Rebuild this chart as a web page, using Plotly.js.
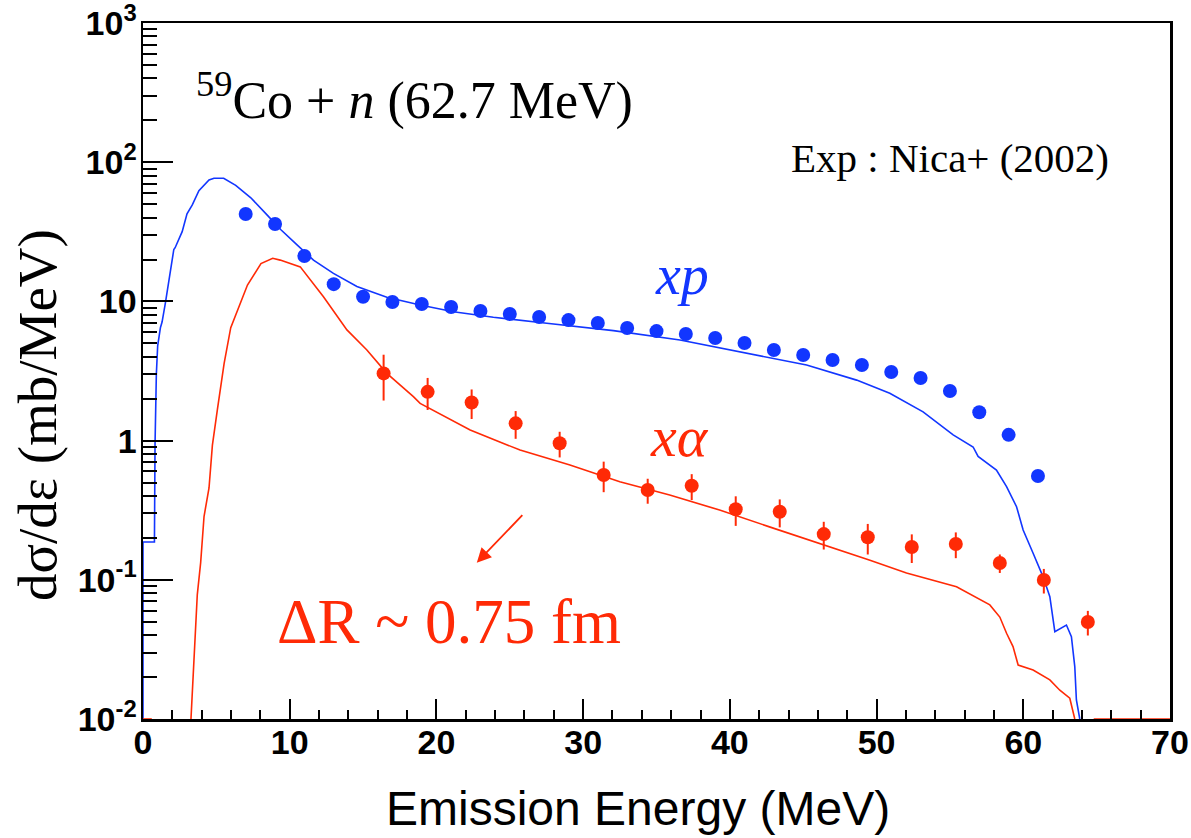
<!DOCTYPE html>
<html>
<head>
<meta charset="utf-8">
<script src="https://cdn.plot.ly/plotly-3.0.1.min.js"></script>
<style>
  html, body { margin: 0; padding: 0; background: #fff; }
  #chart { width: 1191px; height: 838px; }
</style>
</head>
<body>
<div id="chart"></div>
<script>
// Calculated spectra (lines)
const calcXpEnergy = [0, 0, 0.78, 0.82, 0.91, 1.0, 1.19, 1.3, 1.53, 1.76, 2.1, 2.19, 2.67, 3.0, 3.36, 3.81, 4.5, 4.84, 5.5, 6.32, 7.35, 8.5, 9.4, 10.5, 11.62, 12.98, 14.58, 16.62, 18.89, 21.16, 23.88, 27.52, 32.06, 36.6, 40.69, 45.23, 48.64, 50.9, 53.17, 55.22, 56.58, 56.92, 58.17, 58.86, 59.54, 59.99, 60.67, 61.35, 61.81, 62.15, 62.94, 63.28, 63.51, 63.62, 63.85];
const calcXpValue  = [0.01, 0.187, 0.187, 0.93, 3.0, 4.8, 6.5, 7.1, 9.8, 13.9, 23.6, 24.3, 31.7, 42.6, 49.3, 62.4, 74.5, 76.7, 76.7, 68.2, 55.5, 41.3, 32.7, 25.5, 19.8, 15.9, 12.8, 10.7, 9.42, 8.43, 7.69, 6.97, 6.17, 5.28, 4.35, 3.49, 2.72, 2.19, 1.61, 1.10, 0.90, 0.77, 0.615, 0.467, 0.335, 0.228, 0.155, 0.105, 0.0757, 0.0424, 0.0473, 0.039, 0.0238, 0.0137, 0.01];

const calcXaEnergy = [0, 0.6, null, 3.27, 3.47, 3.70, 3.93, 4.16, 4.5, 4.73, 5.07, 5.53, 5.98, 6.55, 7.12, 8.04, 8.84, 9.35, 10.72, 12.3, 13.9, 15.26, 16.62, 18.43, 18.89, 22.3, 25.7, 29.1, 32.5, 35.9, 39.3, 42.7, 46.1, 49.5, 52.04, 55.45, 57.72, 58.4, 58.86, 59.3, 59.65, 60.67, 61.81, 62.49, 63.17, 63.51, null, 64.8, 70];
const calcXaValue  = [0.01, 0.01, null, 0.01, 0.027, 0.078, 0.133, 0.285, 0.457, 0.927, 1.67, 3.59, 6.47, 9.2, 13.1, 18.7, 20.4, 19.8, 17.7, 10.8, 6.24, 4.48, 3.04, 2.07, 1.85, 1.19, 0.855, 0.668, 0.507, 0.406, 0.317, 0.240, 0.183, 0.139, 0.112, 0.089, 0.066, 0.054, 0.0413, 0.0331, 0.0244, 0.0225, 0.0191, 0.0161, 0.0141, 0.01, null, 0.01, 0.01];

// Measured spectra, Nica et al. (2002)
const expXpEnergy = [7, 9, 11, 13, 15, 17, 19, 21, 23, 25, 27, 29, 31, 33, 35, 37, 39, 41, 43, 45, 47, 49, 51, 53, 55, 57, 59, 61];
const expXpValue  = [42.5, 36, 21.2, 13.3, 10.8, 9.9, 9.58, 9.12, 8.53, 8.11, 7.72, 7.34, 7.0, 6.44, 6.12, 5.83, 5.46, 5.02, 4.48, 4.12, 3.79, 3.49, 3.11, 2.82, 2.27, 1.60, 1.10, 0.557];

const expXaEnergy = [16.4, 19.4, 22.4, 25.4, 28.4, 31.4, 34.4, 37.4, 40.4, 43.4, 46.4, 49.4, 52.4, 55.4, 58.4, 61.4, 64.4];
const expXaValue  = [3.04, 2.24, 1.88, 1.33, 0.957, 0.566, 0.442, 0.474, 0.321, 0.308, 0.213, 0.202, 0.172, 0.181, 0.132, 0.0997, 0.0498];
const expXaError  = [1.1, 0.58, 0.45, 0.30, 0.20, 0.14, 0.09, 0.10, 0.077, 0.07, 0.048, 0.05, 0.04, 0.038, 0.02, 0.02, 0.01];

// Axis labels
const xTickValues = [0, 10, 20, 30, 40, 50, 60, 70];
const xTickLabels = ['0', '10', '20', '30', '40', '50', '60', '70'];
const yTickValues = [0.01, 0.1, 1, 10, 100, 1000];
const yTickLabels = ['10<sup>-2</sup>', '10<sup>-1</sup>', '1', '10', '10<sup>2</sup>', '10<sup>3</sup>'];
const xTitle = 'Emission Energy (MeV)';
const yTitle = 'dσ/dε (mb/MeV)';

const BLUE = '#1236ff';
const RED = '#ff2a06';
const SERIF = 'Liberation Serif, Times New Roman, serif';
const SANS = 'Liberation Sans, Arial, Helvetica, sans-serif';

const bold = s => '<b>' + s + '</b>';

// minor ticks 2..9 within every decade, every 2 MeV on the energy axis
const yMinor = [];
for (let e = -2; e < 3; e++) {
  for (let m = 2; m <= 9; m++) yMinor.push(m * Math.pow(10, e));
}
const xMinor = [];
for (let v = 2; v < 70; v += 2) if (v % 10 !== 0) xMinor.push(v);

const traces = [
  {
    x: calcXpEnergy, y: calcXpValue, type: 'scatter', mode: 'lines',
    line: { color: BLUE, width: 1.6 }, hoverinfo: 'skip', showlegend: false
  },
  {
    x: calcXaEnergy, y: calcXaValue, type: 'scatter', mode: 'lines', connectgaps: false,
    line: { color: RED, width: 1.6 }, hoverinfo: 'skip', showlegend: false
  },
  {
    x: expXpEnergy, y: expXpValue, type: 'scatter', mode: 'markers',
    marker: { color: BLUE, size: 14 }, showlegend: false
  },
  {
    x: expXaEnergy, y: expXaValue, type: 'scatter', mode: 'markers',
    marker: { color: RED, size: 14 },
    error_y: { type: 'data', array: expXaError, visible: true, color: RED, thickness: 2, width: 0 },
    showlegend: false
  }
];

const tickFont = { family: SANS, size: 34, color: '#000' };

const layout = {
  width: 1191, height: 838,
  margin: { l: 143, r: 21, t: 23, b: 119 },
  paper_bgcolor: '#ffffff', plot_bgcolor: '#ffffff',
  showlegend: false,
  xaxis: {
    range: [0, 70],
    tickmode: 'array', tickvals: xTickValues, ticktext: xTickLabels.map(bold),
    ticks: 'inside', ticklen: 20, tickwidth: 2, tickcolor: '#000',
    minor: { tickmode: 'array', tickvals: xMinor, ticks: 'inside', ticklen: 9, tickwidth: 2, tickcolor: '#000', showgrid: false },
    showline: true, linecolor: '#000', linewidth: 2.5, mirror: true,
    showgrid: false, zeroline: false,
    tickfont: tickFont,
    ticklabelstandoff: -8,
    ticklabeloverflow: 'allow'
  },
  yaxis: {
    type: 'log', range: [-2, 3],
    tickmode: 'array', tickvals: yTickValues, ticktext: yTickLabels.map(bold),
    ticks: 'inside', ticklen: 30, tickwidth: 2, tickcolor: '#000',
    minor: { tickmode: 'array', tickvals: yMinor, ticks: 'inside', ticklen: 14, tickwidth: 2, tickcolor: '#000', showgrid: false },
    showline: true, linecolor: '#000', linewidth: 2.5, mirror: true,
    showgrid: false, zeroline: false,
    tickfont: tickFont,
    ticklabelstandoff: -3,
    ticklabeloverflow: 'allow'
  },
  annotations: [
    {
      xref: 'paper', yref: 'paper', x: 0.4815, y: -0.128, xanchor: 'center', yanchor: 'middle',
      text: xTitle, showarrow: false,
      font: { family: SANS, size: 48, color: '#000' }
    },
    {
      xref: 'paper', yref: 'paper', x: -0.102, y: 0.437, xanchor: 'center', yanchor: 'middle', textangle: -90,
      text: yTitle, showarrow: false,
      font: { family: SERIF, size: 55, color: '#000' }
    },
    {
      xref: 'x', yref: 'y', x: 18.5, y: 2.47, xanchor: 'center', yanchor: 'middle',
      text: '<sup>59</sup>Co + <i>n</i> (62.7 MeV)', showarrow: false,
      font: { family: SERIF, size: 52, color: '#000' }
    },
    {
      xref: 'x', yref: 'y', x: 55.0, y: 2.03, xanchor: 'center', yanchor: 'middle',
      text: 'Exp : Nica+ (2002)', showarrow: false,
      font: { family: SERIF, size: 41, color: '#000' }
    },
    {
      xref: 'x', yref: 'y', x: 36.75, y: 1.19, xanchor: 'center', yanchor: 'middle',
      text: '<i>xp</i>', showarrow: false,
      font: { family: SERIF, size: 56, color: BLUE }
    },
    {
      xref: 'x', yref: 'y', x: 36.6, y: 0.033, xanchor: 'center', yanchor: 'middle',
      text: '<i>xα</i>', showarrow: false,
      font: { family: SERIF, size: 58, color: RED }
    },
    {
      xref: 'x', yref: 'y', x: 20.83, y: -1.303, xanchor: 'center', yanchor: 'middle',
      text: 'ΔR ~ 0.75 fm', showarrow: false,
      font: { family: SERIF, size: 63, color: RED }
    },
    {
      xref: 'x', yref: 'y', x: 22.75, y: -0.877,
      axref: 'pixel', ayref: 'pixel', ax: 47, ay: -49,
      text: '', showarrow: true, arrowhead: 2, arrowsize: 1.6, arrowwidth: 1.8, arrowcolor: RED
    }
  ]
};

Plotly.newPlot('chart', traces, layout, { displayModeBar: false, staticPlot: true });
</script>
</body>
</html>
